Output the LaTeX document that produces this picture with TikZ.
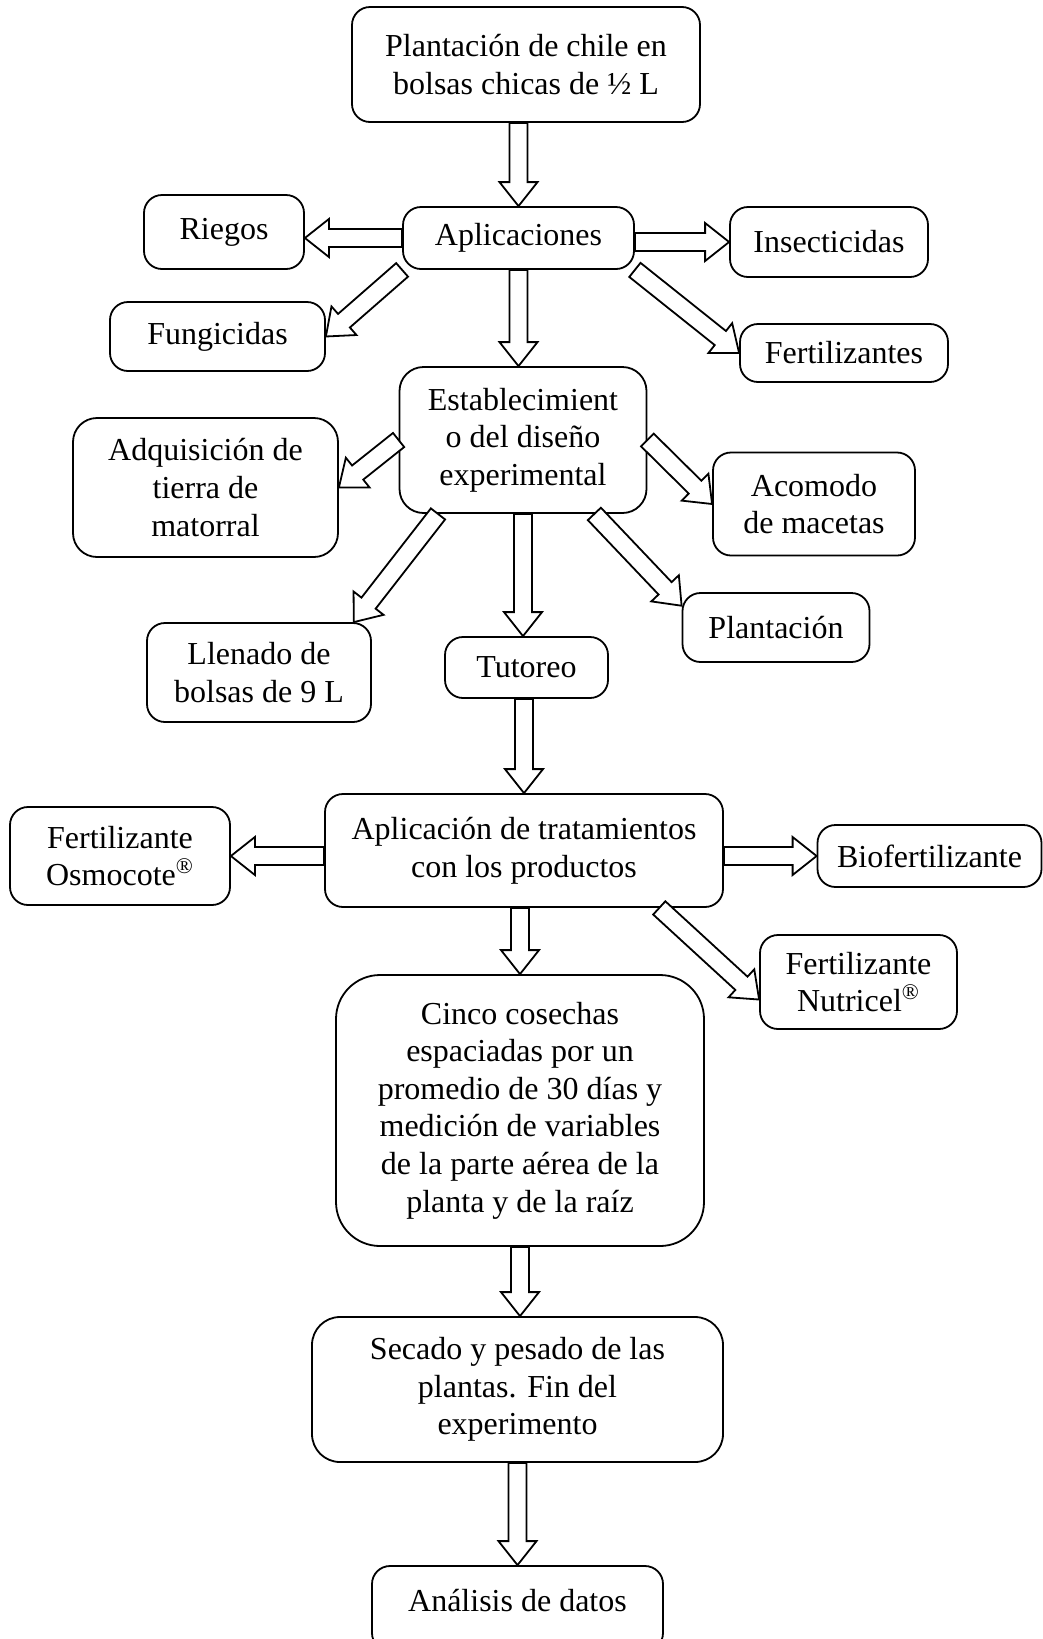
\documentclass[tikz,border=0pt]{standalone}
\usepackage{fontspec}
\setmainfont{Liberation Serif}
\usetikzlibrary{calc}

\tikzset{
  box/.style={draw, line width=0.9pt, rounded corners=9pt, align=center, inner sep=0pt,
    font=\fontsize{16}{18.8}\selectfont},
  flecha/.style={draw, line width=0.9pt, fill=white, line join=miter}
}

% outlined block arrow from #1 to #2
\newcommand{\blockarrow}[2]{%
  \coordinate (ba) at (#1);
  \coordinate (bb) at (#2);
  \coordinate (bn) at ($(bb)!12pt!(ba)$);
  \path[flecha] ($(ba)!4.5pt!90:(bb)$) -- ($(bn)!4.5pt!90:(bb)$) -- ($(bn)!9.5pt!90:(bb)$)
    -- (bb) -- ($(bn)!9.5pt!-90:(bb)$) -- ($(bn)!4.5pt!-90:(bb)$) -- ($(ba)!4.5pt!-90:(bb)$) -- cycle;}

\begin{document}
\begin{tikzpicture}[x=0.5pt,y=-0.5pt]
  \useasboundingbox (0,0) rectangle (1043,1639);

  \node[box, minimum width=174pt, minimum height=57.5pt] (plant) at (526,64.5) {Plantación de chile en\\bolsas chicas de ½ L};
  \node[box, minimum width=115.5pt, minimum height=31pt] (apl) at (518.5,238) {Aplicaciones};
  \node[box, minimum width=80pt, minimum height=37pt] (rie) at (224,232) {Riegos};
  \node[box, minimum width=99pt, minimum height=35pt] (ins) at (829,242) {Insecticidas};
  \node[box, minimum width=107.5pt, minimum height=34.5pt] (fun) at (217.5,336.5) {Fungicidas};
  \node[box, minimum width=104pt, minimum height=29pt] (fer) at (844,353) {Fertilizantes};
  \node[box, minimum width=123.5pt, minimum height=73pt, rounded corners=12pt] (est) at (523,440) {Establecimient\\o del diseño\\experimental};
  \node[box, minimum width=132.5pt, minimum height=69.5pt, rounded corners=12pt] (adq) at (205.5,487.5) {Adquisición de\\tierra de\\matorral};
  \node[box, minimum width=101pt, minimum height=51.5pt] (aco) at (814,504) {Acomodo\\de macetas};
  \node[box, minimum width=112pt, minimum height=49.5pt] (lle) at (259,672.5) {Llenado de\\bolsas de 9 L};
  \node[box, minimum width=81.5pt, minimum height=30.5pt] (tut) at (526.5,667.5) {Tutoreo};
  \node[box, minimum width=93.5pt, minimum height=34.5pt] (pla) at (776,627.5) {Plantación};
  \node[box, minimum width=199pt, minimum height=56.5pt] (apt) at (524,850.5) {Aplicación de tratamientos\\con los productos};
  \node[box, minimum width=110pt, minimum height=49pt] (osm) at (120,856) {Fertilizante\\Osmocote\textsuperscript{\textregistered}};
  \node[box, minimum width=112pt, minimum height=31pt] (bio) at (929.5,856) {Biofertilizante};
  \node[box, minimum width=98.5pt, minimum height=47pt] (nut) at (858.5,982) {Fertilizante\\Nutricel\textsuperscript{\textregistered}};
  \node[box, minimum width=184pt, minimum height=135.5pt, rounded corners=22pt] (cin) at (520,1110.5) {Cinco cosechas\\espaciadas por un\\promedio de 30 días y\\medición de variables\\de la parte aérea de la\\planta y de la raíz};
  \node[box, minimum width=205.5pt, minimum height=72.5pt, rounded corners=14pt] (sec) at (517.5,1389.5) {Secado y pesado de las\\plantas. Fin del\\experimento};
  \node[box, minimum width=145.5pt, text height=22.5pt, text depth=20pt, anchor=base] (ana) at (517.5,1611) {Análisis de datos};

  \blockarrow{apl.north |- plant.south}{apl.north}
  \blockarrow{apl.west}{apl.west -| rie.east}
  \blockarrow{ins.west -| apl.east}{ins.west}
  \blockarrow{apl.south west}{fun.east}
  \blockarrow{apl.south east}{fer.west}
  \blockarrow{apl.south}{apl.south |- est.north}
  \blockarrow{est.west}{adq.east}
  \blockarrow{est.east}{aco.west}
  \blockarrow{est.221}{lle.28}
  \blockarrow{est.south}{est.south |- tut.north}
  \blockarrow{est.314}{pla.167}
  \blockarrow{apt.north |- tut.south}{apt.north}
  \blockarrow{apt.west |- osm.east}{osm.east}
  \blockarrow{apt.east |- bio.west}{bio.west}
  \blockarrow{apt.-23}{nut.190}
  \blockarrow{cin.north |- apt.south}{cin.north}
  \blockarrow{cin.south}{cin.south |- sec.north}
  \blockarrow{sec.south}{sec.south |- ana.north}
\end{tikzpicture}
\end{document}
